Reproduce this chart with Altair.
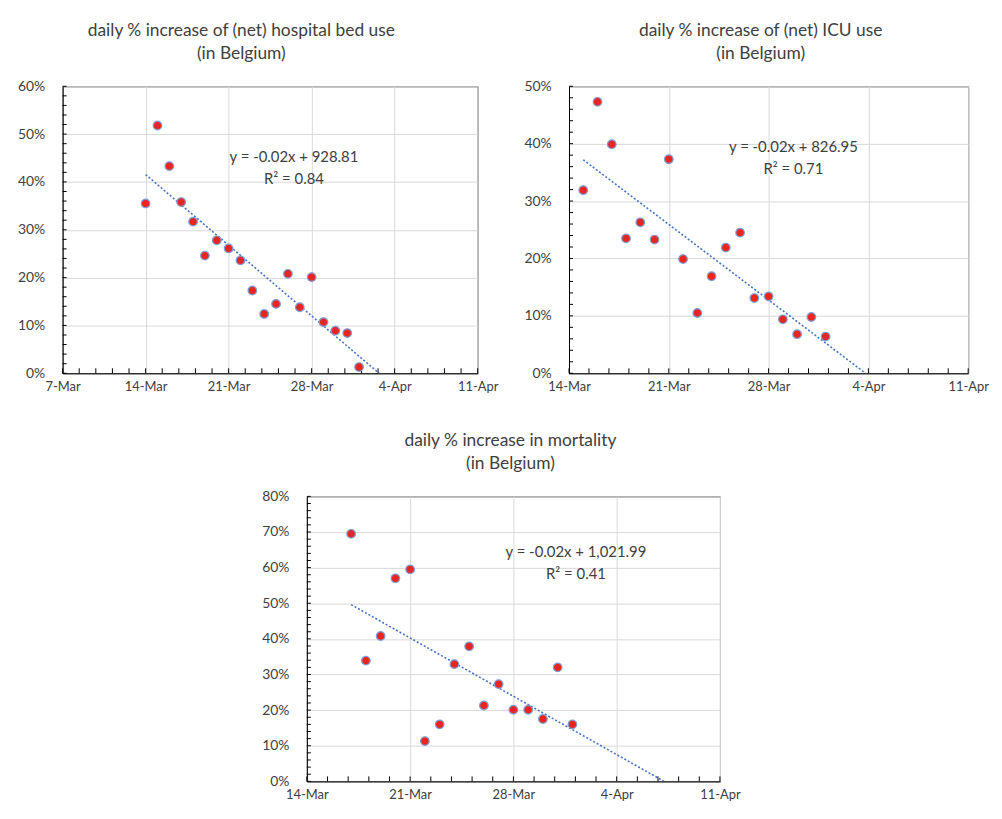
import altair as alt
import pandas as pd
import numpy as np

# ---------------- data ----------------
base_date = "2020-03-07"
tick_labels = ["7-Mar", "14-Mar", "21-Mar", "28-Mar", "4-Apr", "11-Apr"]

bed_dates = ["2020-03-14", "2020-03-15", "2020-03-16", "2020-03-17", "2020-03-18",
             "2020-03-19", "2020-03-20", "2020-03-21", "2020-03-22", "2020-03-23",
             "2020-03-24", "2020-03-25", "2020-03-26", "2020-03-27", "2020-03-28",
             "2020-03-29", "2020-03-30", "2020-03-31", "2020-04-01"]
bed_pct = [35.5, 51.8, 43.3, 35.8, 31.7, 24.6, 27.8, 26.1, 23.6, 17.3,
           12.4, 14.5, 20.8, 13.8, 20.1, 10.7, 8.9, 8.4, 1.3]

icu_dates = ["2020-03-15", "2020-03-16", "2020-03-17", "2020-03-18", "2020-03-19",
             "2020-03-20", "2020-03-21", "2020-03-22", "2020-03-23", "2020-03-24",
             "2020-03-25", "2020-03-26", "2020-03-27", "2020-03-28", "2020-03-29",
             "2020-03-30", "2020-03-31", "2020-04-01"]
icu_pct = [31.9, 47.3, 39.9, 23.5, 26.3, 23.3, 37.3, 19.9, 10.5, 16.9,
           21.9, 24.5, 13.1, 13.4, 9.4, 6.8, 9.8, 6.4]

mort_dates = ["2020-03-17", "2020-03-18", "2020-03-19", "2020-03-20", "2020-03-21",
              "2020-03-22", "2020-03-23", "2020-03-24", "2020-03-25", "2020-03-26",
              "2020-03-27", "2020-03-28", "2020-03-29", "2020-03-30", "2020-03-31",
              "2020-04-01"]
mort_pct = [69.5, 33.9, 40.8, 57.0, 59.5, 11.3, 16.0, 32.9, 37.9, 21.3,
            27.3, 20.1, 20.1, 17.5, 32.0, 16.0]

titles = [["daily % increase of (net) hospital bed use", "(in Belgium)"],
          ["daily % increase of (net) ICU use", "(in Belgium)"],
          ["daily % increase in mortality", "(in Belgium)"]]
equations = ["y = -0.02x + 928.81", "y = -0.02x + 826.95", "y = -0.02x + 1,021.99"]
r_squared = ["R² = 0.84", "R² = 0.71", "R² = 0.41"]

FONT = "Lato"
TXT = "#404040"
RED = "#e8261f"
EDGE = "#7f9fd8"
TREND = "#4472c4"
GRID = "#d9d9d9"


def frame(dates, pct):
    d = pd.to_datetime(pd.Series(dates))
    days = (d - pd.Timestamp(base_date)).dt.days
    return pd.DataFrame({"day": days, "val": np.array(pct) / 100.0})


def panel(df, title, eq, r2, x_start, y_max, W, H, eq_xy, title_dx):
    label_expr = "[" + ",".join("'%s'" % t for t in tick_labels) + "][round(datum.value / 7)]"
    xscale = alt.Scale(domain=[x_start, 35], nice=False, zero=False)
    yscale = alt.Scale(domain=[0, y_max], nice=False)
    xaxis = alt.Axis(values=list(range(x_start, 36, 7)), labelExpr=label_expr, title=None,
                     grid=True, gridColor=GRID, ticks=False, tickSize=0, domainColor="#000000",
                     domainWidth=1, labelFont=FONT, labelFontSize=13, labelColor=TXT,
                     labelPadding=7, labelFlush=False, labelOverlap=False)
    yaxis = alt.Axis(values=[round(v * 0.1, 1) for v in range(0, int(round(y_max * 10)) + 1)],
                     format=".0%", title=None, grid=True, gridColor=GRID, ticks=False,
                     tickSize=0, domainColor="#000000", domainWidth=1, labelFont=FONT,
                     labelFontSize=14, labelColor=TXT, labelPadding=18, labelOverlap=False)

    def X(f):
        return alt.X(f, type="quantitative", scale=xscale, axis=xaxis)

    def Y(f):
        return alt.Y(f, type="quantitative", scale=yscale, axis=yaxis)

    x0 = df["day"].min()
    trend = alt.Chart(df).transform_regression(
        "day", "val", extent=[int(x0), 35]
    ).mark_line(color=TREND, strokeDash=[2, 2], strokeWidth=1.6, clip=True).encode(
        x=X("day"), y=Y("val"))

    pts = alt.Chart(df).mark_point(shape="circle", filled=True, fill=RED, stroke=EDGE,
                                   strokeWidth=1.2, opacity=1, size=75).encode(
        x=X("day"), y=Y("val"))

    xt = pd.DataFrame({"t": np.arange(x_start, 35.01, 1.4)})
    xticks = alt.Chart(xt).mark_rule(color="#000000", strokeWidth=1).encode(
        x=X("t"), y=alt.value(H), y2=alt.value(H - 5))
    yt = pd.DataFrame({"t": np.arange(0, y_max + 1e-9, 0.02)})
    yticks = alt.Chart(yt).mark_rule(color="#000000", strokeWidth=1).encode(
        y=Y("t"), x=alt.value(0), x2=alt.value(4))

    ann = pd.DataFrame({"txt": [[eq, r2]]})
    text = alt.Chart(ann).mark_text(font=FONT, fontSize=15, color=TXT, lineHeight=22,
                                    align="center", baseline="middle").encode(
        text="txt:N", x=alt.value(eq_xy[0]), y=alt.value(eq_xy[1]))

    return alt.layer(trend, xticks, yticks, pts, text).properties(
        width=W, height=H,
        title=alt.TitleParams(text=title, font=FONT, fontSize=17.5, fontWeight="normal",
                              color=TXT, anchor="middle", frame="group", dx=title_dx,
                              lineHeight=23, offset=17),
    )


p1 = panel(frame(bed_dates, bed_pct), titles[0], equations[0], r_squared[0],
           0, 0.6, 418, 289, (233, 71), -29)
p2 = panel(frame(icu_dates, icu_pct), titles[1], equations[1], r_squared[1],
           7, 0.5, 402, 289, (226, 61), -8)
p3 = panel(frame(mort_dates, mort_pct), titles[2], equations[2], r_squared[2],
           7, 0.8, 416, 287, (271, 56), -3)

spacer = alt.Chart(pd.DataFrame({"a": [0]})).mark_point(opacity=0).encode(
    x=alt.value(0), y=alt.value(0)).properties(
    width=246, height=287, view=alt.ViewBackground(strokeOpacity=0))

top = alt.hconcat(p1, p2, spacing=92, bounds="flush")
bottom = alt.hconcat(spacer, p3, spacing=0, bounds="flush")
chart = alt.vconcat(top, bottom, spacing=38).properties(
    padding={"left": 9, "top": 11, "right": 5, "bottom": 5},
    background="#ffffff",
).configure_view(stroke="#262626", strokeWidth=1)

chart.save("out.html", embed_options={"renderer": "svg", "actions": False})
